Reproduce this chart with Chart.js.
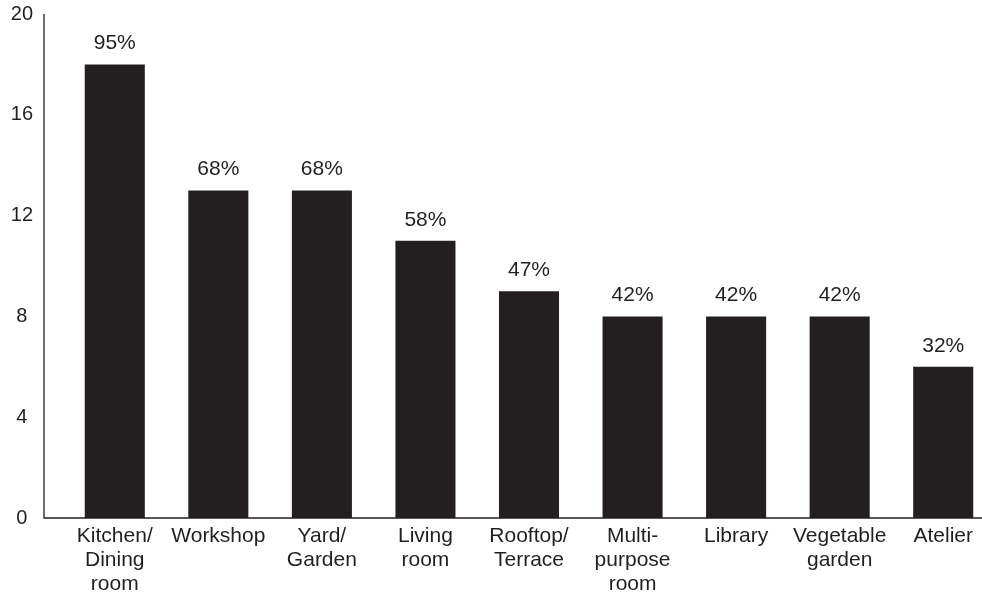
<!DOCTYPE html>
<html>
<head>
<meta charset="utf-8">
<title>Spaces</title>
<script src="https://cdn.jsdelivr.net/npm/chart.js@4/dist/chart.umd.min.js"></script>
<style>
  html, body { margin: 0; padding: 0; background: #fff; overflow: hidden; }
  #wrap { width: 995px; height: 597px; }
</style>
</head>
<body>
<div id="wrap"><canvas id="myChart" width="995" height="597"></canvas></div>
<script>
const labels = [
  ['Kitchen/', 'Dining', 'room'],
  'Workshop',
  ['Yard/', 'Garden'],
  ['Living', 'room'],
  ['Rooftop/', 'Terrace'],
  ['Multi-', 'purpose', 'room'],
  'Library',
  ['Vegetable', 'garden'],
  'Atelier',
];
const counts = [18, 13, 13, 11, 9, 8, 8, 8, 6];
const respondents = 19;
const yTicks = [0, 4, 8, 12, 16, 20];

const ink = '#231f20';
const font = 'Liberation Sans, Arial, Helvetica, sans-serif';

// percentage over each bar, worked out from the count
const barLabels = {
  id: 'barLabels',
  afterDatasetsDraw(chart) {
    const ctx = chart.ctx;
    const bars = chart.getDatasetMeta(0).data;
    ctx.save();
    ctx.font = '21px ' + font;
    ctx.fillStyle = ink;
    ctx.textAlign = 'center';
    ctx.textBaseline = 'alphabetic';
    bars.forEach(function(bar, i){
      const pct = Math.round(counts[i] / respondents * 100);
      ctx.fillText(pct + '%', bar.x, bar.y - 15);
    });
    ctx.restore();
  }
};

// the two axis lines sit a bit left of the first category
const axisLines = {
  id: 'axisLines',
  afterDraw(chart) {
    const ctx = chart.ctx;
    const y = chart.scales.y;
    const x0 = 44;
    ctx.save();
    ctx.strokeStyle = ink;
    ctx.lineWidth = 1.3;
    ctx.beginPath();
    ctx.moveTo(x0, y.getPixelForValue(20));
    ctx.lineTo(x0, y.getPixelForValue(0));
    ctx.lineTo(chart.width, y.getPixelForValue(0));
    ctx.stroke();
    ctx.restore();
  }
};

const data = {
  labels: labels,
  datasets: [{
    data: counts,
    backgroundColor: ink,
    borderWidth: 0,
    barPercentage: 1,
    categoryPercentage: 0.58,
  }]
};

const config = {
  type: 'bar',
  data: data,
  options: {
    responsive: false,
    animation: false,
    devicePixelRatio: 1,
    layout: { padding: 0 },
    plugins: {
      legend: { display: false },
      tooltip: { enabled: false },
    },
    scales: {
      x: {
        grid: { display: false, drawTicks: false },
        border: { display: false },
        ticks: {
          color: ink,
          padding: 6,
          maxRotation: 0,
          autoSkip: false,
          font: { family: font, size: 21, lineHeight: 1.15 },
        },
        afterFit(scale) { scale.height = 79; },
      },
      y: {
        min: 0,
        max: 20,
        grid: { display: false, drawTicks: false },
        border: { display: false },
        afterBuildTicks(scale) {
          scale.ticks = yTicks.map(function(v){ return { value: v }; });
        },
        ticks: {
          color: ink,
          padding: 30,
          crossAlign: 'center',
          font: { family: font, size: 20 },
        },
        afterFit(scale) {
          scale.width = 63;
          // tick padding would otherwise push the plot down
          scale.paddingTop = 14;
          scale.paddingBottom = 0;
        },
      }
    }
  },
  plugins: [barLabels, axisLines]
};

const myChart = new Chart(
  document.getElementById('myChart').getContext('2d'),
  config
);
</script>
</body>
</html>
